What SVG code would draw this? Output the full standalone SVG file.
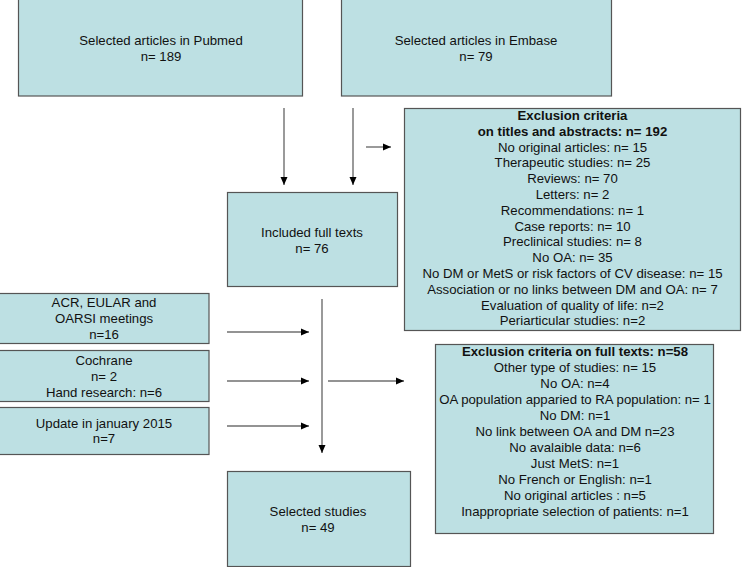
<svg xmlns="http://www.w3.org/2000/svg" width="742" height="567" viewBox="0 0 742 567">
<defs>
<style>
.box{fill:#bde0e3;stroke:#555;stroke-width:1.2}
text{font-family:"Liberation Sans",Arial,sans-serif;font-size:13.2px;fill:#111;text-anchor:middle}
.b{font-weight:bold}
.ln{stroke:#6f6f6f;stroke-width:1.4;fill:none}
</style>
<marker id="ah" markerWidth="8" markerHeight="8" viewBox="0 0 8 8" refX="8" refY="4" orient="auto" markerUnits="userSpaceOnUse">
<path d="M0,0.5 L8,4 L0,7.5 Z" fill="#000"/>
</marker>
</defs>
<rect width="742" height="567" fill="#fff"/>
<g id="pubmed">
<rect class="box" x="18.5" y="-1" width="284" height="97"/>
<text x="161" y="45">Selected articles in Pubmed</text>
<text x="161" y="61">n= 189</text>
</g>
<g id="embase">
<rect class="box" x="341.5" y="-1" width="270" height="97"/>
<text x="476" y="45">Selected articles in Embase</text>
<text x="476" y="61">n= 79</text>
</g>
<g id="excl1">
<rect class="box" x="404.5" y="108.5" width="336" height="222"/>
<text class="b" x="572.5" y="120">Exclusion criteria</text>
<text class="b" x="572.5" y="135.8">on titles and abstracts: n= 192</text>
<text x="572.5" y="151.6">No original articles: n= 15</text>
<text x="572.5" y="167.4">Therapeutic studies: n= 25</text>
<text x="572.5" y="183.2">Reviews: n= 70</text>
<text x="572.5" y="199">Letters: n= 2</text>
<text x="572.5" y="214.8">Recommendations:  n= 1</text>
<text x="572.5" y="230.6">Case reports: n= 10</text>
<text x="572.5" y="246.4">Preclinical studies: n=  8</text>
<text x="572.5" y="262.2">No OA: n= 35</text>
<text x="572.5" y="278">No DM or MetS or risk factors of CV disease: n= 15</text>
<text x="572.5" y="293.8">Association or no links between DM and OA: n= 7</text>
<text x="572.5" y="309.6">Evaluation  of quality of life: n=2</text>
<text x="572.5" y="325.4">Periarticular studies: n=2</text>
</g>
<g id="included">
<rect class="box" x="227.5" y="192.5" width="170" height="94"/>
<text x="312" y="237">Included full texts</text>
<text x="312" y="253">n= 76</text>
</g>
<g id="acr">
<rect class="box" x="-1" y="293.5" width="210" height="50"/>
<text x="104" y="307">ACR, EULAR and</text>
<text x="104" y="323">OARSI meetings</text>
<text x="104" y="339">n=16</text>
</g>
<g id="cochrane">
<rect class="box" x="-1" y="350.5" width="210" height="51"/>
<text x="104" y="365">Cochrane</text>
<text x="104" y="381">n= 2</text>
<text x="104" y="397">Hand research: n=6</text>
</g>
<g id="update">
<rect class="box" x="-1" y="407.5" width="210" height="47"/>
<text x="104" y="428">Update in january 2015</text>
<text x="104" y="443">n=7</text>
</g>
<g id="excl2">
<rect class="box" x="435.5" y="344.5" width="278" height="189"/>
<text class="b" x="575" y="356">Exclusion criteria on full texts: n=58</text>
<text x="575" y="372">Other type of studies: n= 15</text>
<text x="575" y="388">No OA: n=4</text>
<text x="575" y="404">OA population  apparied to RA population:  n= 1</text>
<text x="575" y="420">No DM: n=1</text>
<text x="575" y="436">No link between OA and DM n=23</text>
<text x="575" y="452">No avalaible data: n=6</text>
<text x="575" y="468">Just MetS: n=1</text>
<text x="575" y="484">No French  or English:  n=1</text>
<text x="575" y="500">No original articles : n=5</text>
<text x="575" y="516">Inappropriate selection of patients: n=1</text>
</g>
<g id="selected">
<rect class="box" x="227.5" y="471.5" width="183" height="95"/>
<text x="318" y="516">Selected studies</text>
<text x="318" y="532">n= 49</text>
</g>
<g id="connectors">
<line class="ln" x1="284" y1="108" x2="284" y2="185" marker-end="url(#ah)"/>
<line class="ln" x1="353" y1="108" x2="353" y2="185" marker-end="url(#ah)"/>
<line class="ln" x1="366" y1="147" x2="391" y2="147" marker-end="url(#ah)"/>
<line class="ln" x1="322" y1="299" x2="322" y2="453" marker-end="url(#ah)"/>
<line class="ln" x1="227" y1="332" x2="309" y2="332" marker-end="url(#ah)"/>
<line class="ln" x1="227" y1="381" x2="309" y2="381" marker-end="url(#ah)"/>
<line class="ln" x1="227" y1="426" x2="309" y2="426" marker-end="url(#ah)"/>
<line class="ln" x1="328" y1="381" x2="404" y2="381" marker-end="url(#ah)"/>
</g>
</svg>
